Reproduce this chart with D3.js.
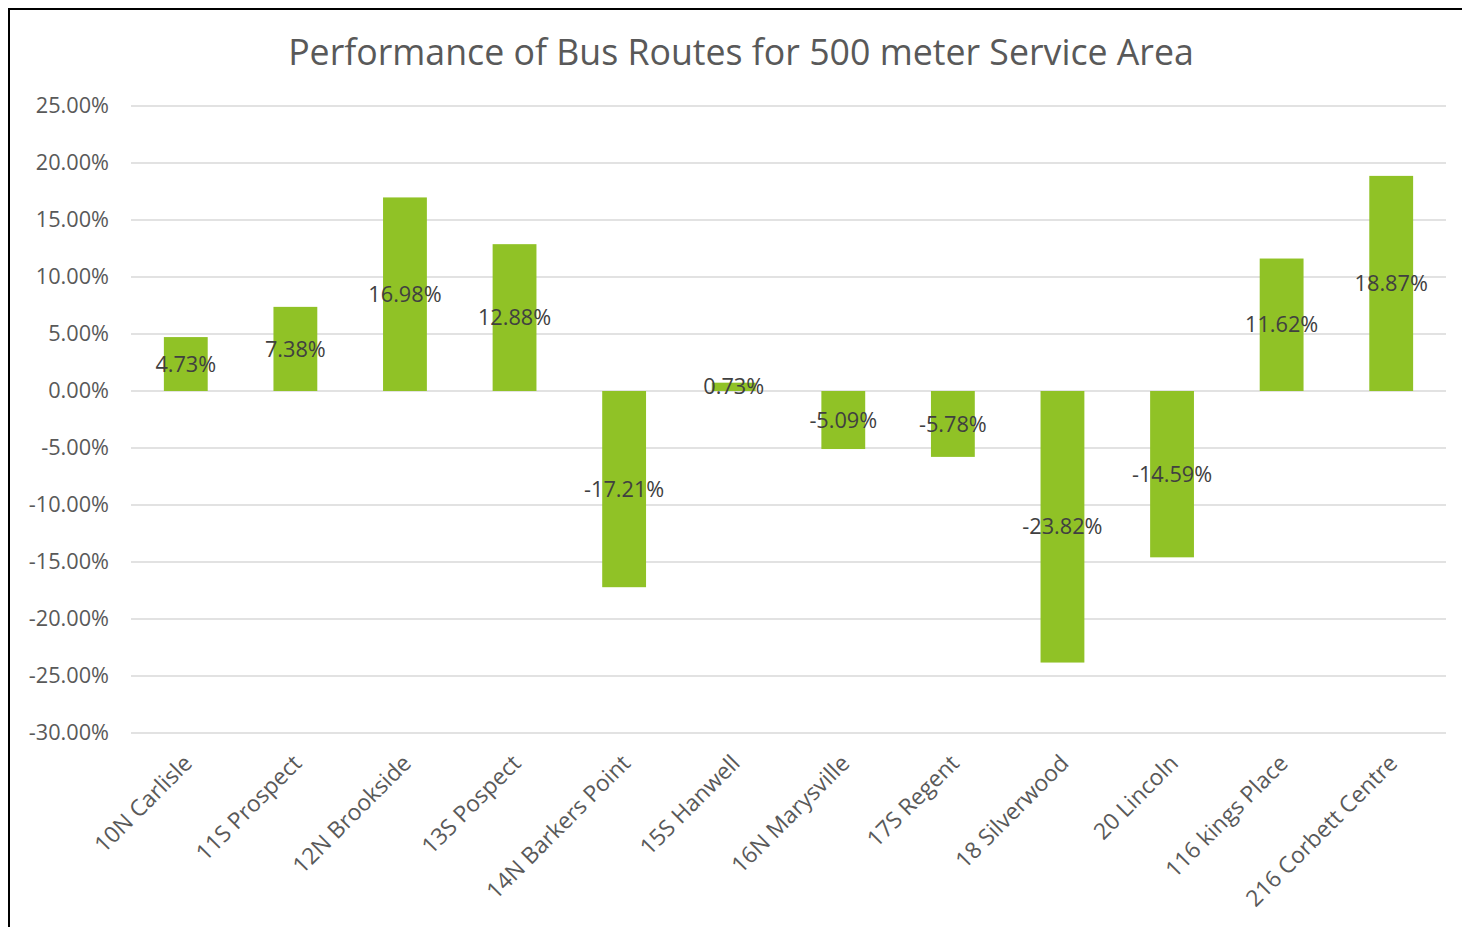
<!DOCTYPE html>
<html><head><meta charset="utf-8">
<script src="https://cdn.jsdelivr.net/npm/d3@7"></script>
<style>body{margin:0;background:#fff;} svg{display:block;font-family:"Open Sans",sans-serif;}</style>
</head><body>
<svg id="c" width="1462" height="927"></svg>
<script>
const categories = ["10N Carlisle","11S Prospect","12N Brookside","13S Pospect","14N Barkers Point","15S Hanwell","16N Marysville","17S Regent","18 Silverwood","20 Lincoln","116 kings Place","216 Corbett Centre"];
const values = [4.73, 7.38, 16.98, 12.88, -17.21, 0.73, -5.09, -5.78, -23.82, -14.59, 11.62, 18.87];
const yTicks = [25,20,15,10,5,0,-5,-10,-15,-20,-25,-30];
const title = "Performance of Bus Routes for 500 meter Service Area";

const svg = d3.select("#c");
svg.append("rect").attr("x",9).attr("y",9).attr("width",1500).attr("height",1000)
  .attr("fill","#fff").attr("stroke","#000").attr("stroke-width",2);

const left=131, right=1446;
const x = d3.scaleBand().domain(categories).range([left,right]).paddingInner(0.6).paddingOuter(0.3);
const y = d3.scaleLinear().domain([-30,25]).range([733,106]);

svg.append("text").attr("x",741).attr("y",65).attr("text-anchor","middle")
  .attr("font-size",35.7).attr("fill","#595959").text(title);

const grid = svg.append("g");
grid.selectAll("line").data(yTicks).join("line")
  .attr("x1",left).attr("x2",right).attr("y1",d=>y(d)).attr("y2",d=>y(d))
  .attr("stroke","#d9d9d9").attr("stroke-width",1.5);

const yAxis = svg.append("g").attr("transform",`translate(${left},0)`)
  .call(d3.axisLeft(y).tickValues(yTicks).tickSize(0).tickPadding(22).tickFormat(d=>d.toFixed(2)+"%"));
yAxis.select(".domain").remove();
yAxis.selectAll("text").attr("font-size",21.7).attr("fill","#595959").attr("font-family","Open Sans");

svg.append("g").selectAll("rect").data(values).join("rect")
  .attr("x",(d,i)=>x(categories[i])).attr("width",x.bandwidth())
  .attr("y",d=>y(Math.max(0,d))).attr("height",d=>Math.abs(y(d)-y(0)))
  .attr("fill","#90c226");

svg.append("g").selectAll("text").data(values).join("text")
  .attr("x",(d,i)=>x(categories[i])+x.bandwidth()/2)
  .attr("y",d=>(y(d)+y(0))/2).attr("dy","0.35em")
  .attr("text-anchor","middle").attr("font-size",21.7).attr("fill","#404040")
  .text(d=>d.toFixed(2)+"%");

const xAxis = svg.append("g").attr("transform",`translate(0,${y(-30)})`)
  .call(d3.axisBottom(x).tickSize(0).tickPadding(0));
xAxis.select(".domain").remove();
xAxis.selectAll("text").attr("font-size",22.8).attr("fill","#595959").attr("font-family","Open Sans")
  .attr("text-anchor","end").attr("dy","0.35em")
  .attr("transform","translate(2,26) rotate(-45)");
</script>
</body></html>
